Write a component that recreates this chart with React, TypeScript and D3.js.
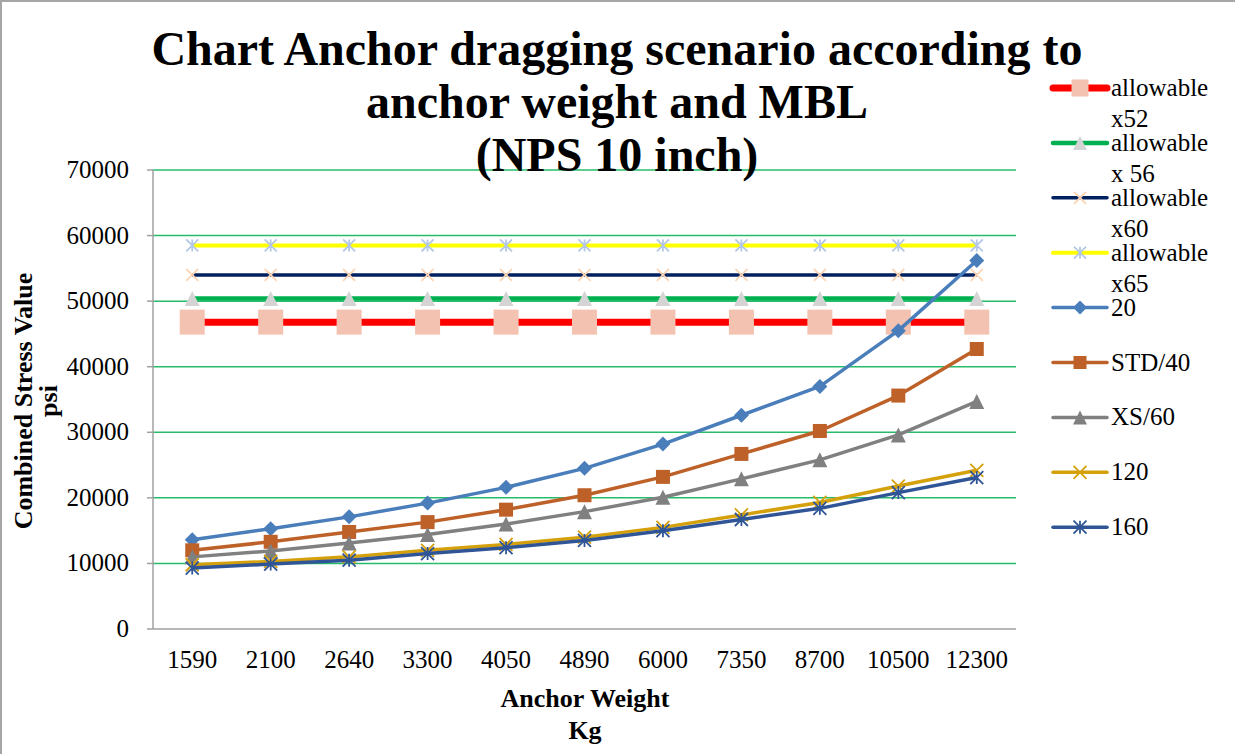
import * as d3 from "d3";
import { useEffect, useRef } from "react";

const categories = ["1590", "2100", "2640", "3300", "4050", "4890", "6000", "7350", "8700", "10500", "12300"];
const yTicks = [0, 10000, 20000, 30000, 40000, 50000, 60000, 70000];

const allowX52 = [46800, 46800, 46800, 46800, 46800, 46800, 46800, 46800, 46800, 46800, 46800];
const allowX56 = [50400, 50400, 50400, 50400, 50400, 50400, 50400, 50400, 50400, 50400, 50400];
const allowX60 = [54000, 54000, 54000, 54000, 54000, 54000, 54000, 54000, 54000, 54000, 54000];
const allowX65 = [58500, 58500, 58500, 58500, 58500, 58500, 58500, 58500, 58500, 58500, 58500];
const sch20 = [13600, 15300, 17100, 19200, 21600, 24500, 28200, 32600, 37000, 45500, 56200];
const schStd40 = [12000, 13300, 14800, 16300, 18200, 20400, 23200, 26700, 30200, 35600, 42700];
const schXs60 = [11000, 11900, 13100, 14400, 16000, 17900, 20100, 22900, 25800, 29600, 34700];
const sch120 = [9800, 10300, 11000, 12000, 12900, 14000, 15500, 17400, 19300, 21800, 24200];
const sch160 = [9300, 9900, 10500, 11500, 12400, 13500, 15000, 16700, 18400, 20800, 23100];

type Marker = "square" | "triangle" | "x" | "star" | "diamond";

const series: {
  name: string[];
  values: number[];
  color: string;
  width: number;
  marker: Marker;
  markerColor: string;
  size: number;
  legendSize: number;
}[] = [
  { name: ["allowable", "x52"], values: allowX52, color: "#FF0000", width: 7, marker: "square", markerColor: "#F4C2B0", size: 25, legendSize: 17 },
  { name: ["allowable", "x 56"], values: allowX56, color: "#00B050", width: 4.5, marker: "triangle", markerColor: "#D4D4D4", size: 15, legendSize: 14 },
  { name: ["allowable", "x60"], values: allowX60, color: "#002060", width: 3.5, marker: "x", markerColor: "#FCD5B5", size: 12, legendSize: 12 },
  { name: ["allowable", "x65"], values: allowX65, color: "#FFFF00", width: 4, marker: "star", markerColor: "#B4C7E7", size: 12, legendSize: 12 },
  { name: ["20"], values: sch20, color: "#4A7EBB", width: 3.5, marker: "diamond", markerColor: "#4A7EBB", size: 15, legendSize: 14 },
  { name: ["STD/40"], values: schStd40, color: "#BE6128", width: 3.5, marker: "square", markerColor: "#BE6128", size: 14, legendSize: 13 },
  { name: ["XS/60"], values: schXs60, color: "#808080", width: 3.5, marker: "triangle", markerColor: "#808080", size: 15, legendSize: 14 },
  { name: ["120"], values: sch120, color: "#D4A00C", width: 3.5, marker: "x", markerColor: "#D4A00C", size: 13, legendSize: 13 },
  { name: ["160"], values: sch160, color: "#2F5597", width: 3.5, marker: "star", markerColor: "#2F5597", size: 13, legendSize: 13 },
];

const FONT = "'Liberation Serif', 'Times New Roman', serif";

function drawMarker(
  g: d3.Selection<SVGGElement, unknown, null, undefined>,
  type: Marker,
  cx: number,
  cy: number,
  s: number,
  color: string
) {
  const h = s / 2;
  if (type === "square") {
    g.append("rect").attr("x", cx - h).attr("y", cy - h).attr("width", s).attr("height", s).attr("fill", color);
  } else if (type === "triangle") {
    g.append("path")
      .attr("d", `M${cx},${cy - h}L${cx + h},${cy + h}L${cx - h},${cy + h}Z`)
      .attr("fill", color);
  } else if (type === "diamond") {
    g.append("path")
      .attr("d", `M${cx},${cy - h}L${cx + h},${cy}L${cx},${cy + h}L${cx - h},${cy}Z`)
      .attr("fill", color);
  } else {
    let d = `M${cx - h},${cy - h}L${cx + h},${cy + h}M${cx - h},${cy + h}L${cx + h},${cy - h}`;
    if (type === "star") d += `M${cx},${cy - h}L${cx},${cy + h}`;
    g.append("path").attr("d", d).attr("stroke", color).attr("stroke-width", 1.8).attr("fill", "none");
  }
}

const App = () => {
  const svgRef = useRef<SVGSVGElement>(null);

  useEffect(() => {
    const svg = d3.select(svgRef.current);
    svg.selectAll("*").remove();

    const left = 153;
    const right = 1016;
    const top = 170;
    const bottom = 629;

    const x = d3.scaleBand<string>().domain(categories).range([left, right]).padding(0);
    const y = d3.scaleLinear().domain([0, 70000]).range([bottom, top]);
    const cx = (c: string) => (x(c) as number) + x.bandwidth() / 2;

    // outer frame
    svg.append("path")
      .attr("d", `M1,754V1H1235`)
      .attr("fill", "none")
      .attr("stroke", "#A6A6A6")
      .attr("stroke-width", 2);

    // gridlines
    svg.append("g")
      .selectAll("line")
      .data(yTicks.slice(1))
      .join("line")
      .attr("x1", left)
      .attr("x2", right)
      .attr("y1", (d) => y(d))
      .attr("y2", (d) => y(d))
      .attr("stroke", "#00B050")
      .attr("stroke-opacity", 0.85)
      .attr("stroke-width", 1.5);

    // axes
    const axisG = svg.append("g").attr("stroke", "#A0A0A0").attr("stroke-width", 1.5);
    axisG.append("line").attr("x1", left).attr("x2", left).attr("y1", top).attr("y2", bottom);
    axisG.append("line").attr("x1", left - 6).attr("x2", right).attr("y1", bottom).attr("y2", bottom);
    axisG.selectAll("line.tick")
      .data(yTicks.slice(1))
      .join("line")
      .attr("class", "tick")
      .attr("x1", left - 6)
      .attr("x2", left)
      .attr("y1", (d) => y(d))
      .attr("y2", (d) => y(d));

    svg.append("g")
      .selectAll("text")
      .data(yTicks)
      .join("text")
      .attr("x", 129)
      .attr("y", (d) => y(d) + 8)
      .attr("text-anchor", "end")
      .attr("font-family", FONT)
      .attr("font-size", 25)
      .attr("fill", "#000")
      .text((d) => String(d));

    svg.append("g")
      .selectAll("text")
      .data(categories)
      .join("text")
      .attr("x", (d) => cx(d))
      .attr("y", 668)
      .attr("text-anchor", "middle")
      .attr("font-family", FONT)
      .attr("font-size", 25)
      .attr("fill", "#000")
      .text((d) => d);

    // series
    const line = d3
      .line<number>()
      .x((_, i) => cx(categories[i]))
      .y((d) => y(d));

    series.forEach((s) => {
      const g = svg.append("g");
      g.append("path")
        .attr("d", line(s.values))
        .attr("fill", "none")
        .attr("stroke", s.color)
        .attr("stroke-width", s.width)
        .attr("stroke-linejoin", "round");
      s.values.forEach((v, i) => drawMarker(g, s.marker, cx(categories[i]), y(v), s.size, s.markerColor));
    });

    // axis titles
    const xt = svg.append("text")
      .attr("text-anchor", "middle")
      .attr("font-family", FONT)
      .attr("font-size", 26)
      .attr("font-weight", "bold");
    xt.append("tspan").attr("x", 585).attr("y", 707).text("Anchor Weight");
    xt.append("tspan").attr("x", 585).attr("y", 739).text("Kg");

    const yt = svg.append("text")
      .attr("transform", "translate(0,401) rotate(-90)")
      .attr("text-anchor", "middle")
      .attr("font-family", FONT)
      .attr("font-size", 26)
      .attr("font-weight", "bold");
    yt.append("tspan").attr("x", 0).attr("y", 32).text("Combined Stress Value");
    yt.append("tspan").attr("x", 0).attr("y", 57).text("psi");

    // legend
    const legend = svg.append("g");
    series.forEach((s, i) => {
      const ly = 88 + i * 54.9;
      legend.append("line")
        .attr("x1", 1053)
        .attr("x2", 1107)
        .attr("y1", ly)
        .attr("y2", ly)
        .attr("stroke", s.color)
        .attr("stroke-width", s.width)
        .attr("stroke-linecap", "round");
      drawMarker(legend, s.marker, 1080, ly, s.legendSize, s.markerColor);
      s.name.forEach((t, j) => {
        legend.append("text")
          .attr("x", 1111)
          .attr("y", ly + 8 + j * 31)
          .attr("font-family", FONT)
          .attr("font-size", 25)
          .attr("fill", "#000")
          .text(t);
      });
    });

    // title
    const title = svg.append("text")
      .attr("text-anchor", "middle")
      .attr("font-family", FONT)
      .attr("font-size", 48)
      .attr("font-weight", "bold")
      .attr("fill", "#000");
    ["Chart Anchor dragging scenario according to", "anchor weight and MBL", "(NPS 10 inch)"].forEach((t, i) => {
      title.append("tspan").attr("x", 617).attr("y", 65 + i * 53).text(t);
    });
  }, []);

  return (
    <div>
      <style>{`body{margin:0;background:#fff}`}</style>
      <svg ref={svgRef} width={1235} height={754} style={{ display: "block" }} />
    </div>
  );
};

export default App;
